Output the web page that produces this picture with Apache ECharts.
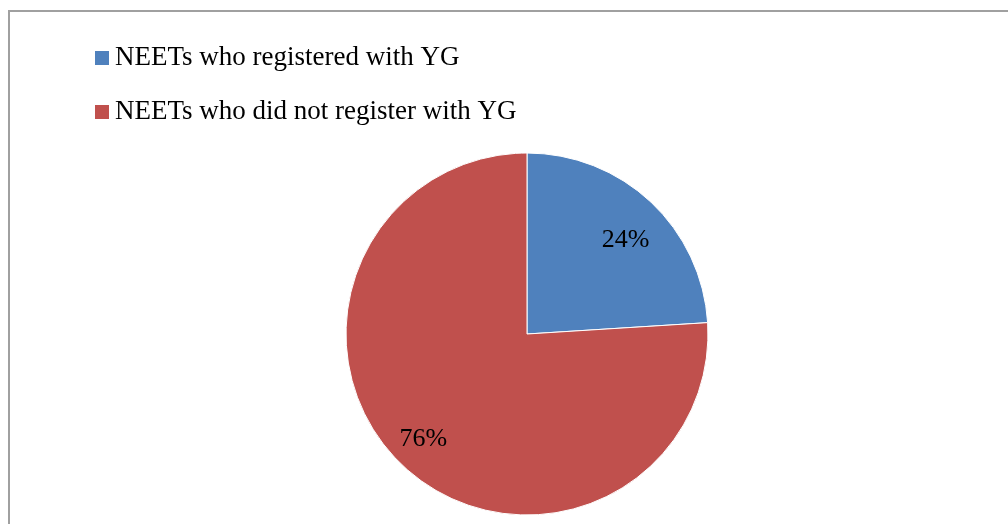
<!DOCTYPE html>
<html>
<head>
<meta charset="utf-8">
<script src="https://cdn.jsdelivr.net/npm/echarts@6/dist/echarts.min.js"></script>
<style>
  html, body { margin: 0; padding: 0; background: #fff; }
  #main { width: 1008px; height: 524px; }
</style>
</head>
<body>
<div id="main"></div>
<script>
// 数据
var categories = ['NEETs who registered with YG', 'NEETs who did not register with YG'];
var values = [24, 76];
var colors = ['#4F81BD', '#C0504D'];
var labelShift = [[0, 11], [-5, 0]];

var pieData = [];
for (var i = 0; i < categories.length; i++) {
  pieData.push({ name: categories[i], value: values[i], itemStyle: { color: colors[i] } });
}

var serif = "'Liberation Serif', 'Times New Roman', serif";
var myChart = echarts.init(document.getElementById('main'));

option = {
  backgroundColor: '#FFFFFF',
  animation: false,
  graphic: [{
    type: 'rect',
    shape: { x: 9, y: 11, width: 1200, height: 700 },
    style: { fill: 'none', stroke: '#A0A0A0', lineWidth: 2 },
    silent: true
  }],
  legend: {
    orient: 'vertical',
    left: 88,
    top: 39,
    icon: 'rect',
    itemWidth: 16,
    itemHeight: 16,
    itemGap: 26,
    data: categories,
    textStyle: { fontFamily: serif, fontSize: 27, color: '#000', lineHeight: 28 }
  },
  series: [
    {
      name: 'pie',
      type: 'pie',
      center: [527, 334],
      radius: [0, 181],
      startAngle: 90,
      clockwise: true,
      silent: true,
      label: { show: false },
      labelLine: { show: false },
      itemStyle: { borderColor: '#fff', borderWidth: 1 },
      data: pieData
    },
    {
      // 透明层，只用来放标签
      name: 'labels',
      type: 'pie',
      center: [527, 334],
      radius: [0, 282],
      startAngle: 90,
      clockwise: true,
      silent: true,
      itemStyle: { color: 'transparent', borderWidth: 0 },
      label: {
        show: true,
        position: 'inside',
        formatter: '{d}%',
        fontFamily: serif,
        fontSize: 26,
        color: '#000'
      },
      labelLine: { show: false },
      data: pieData.map(function (d, i) {
        return { name: d.name, value: d.value, label: { offset: labelShift[i] } };
      })
    }
  ]
};
myChart.setOption(option);
</script>
</body>
</html>
